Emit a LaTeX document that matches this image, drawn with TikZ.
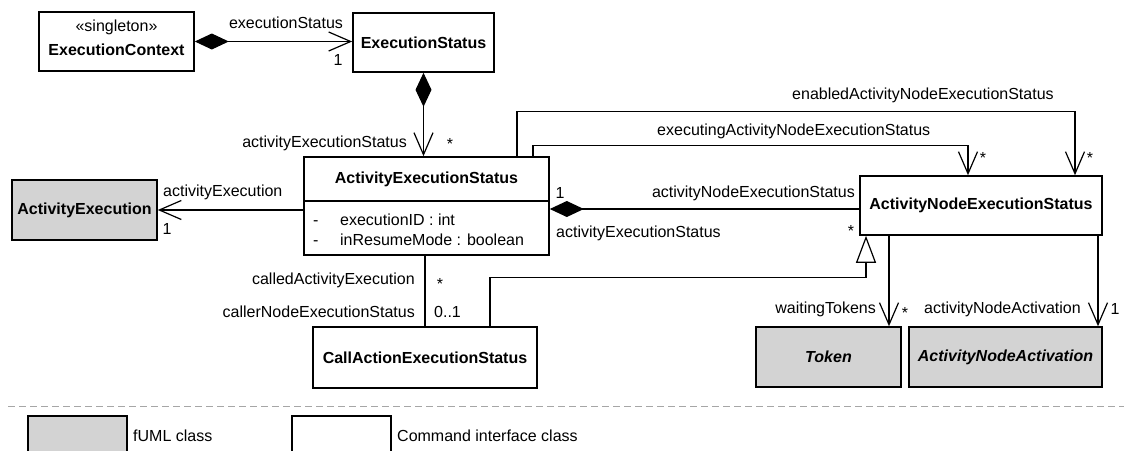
\documentclass[tikz,border=0pt]{standalone}
\usepackage{fontspec}
\setmainfont{Liberation Sans}
\usetikzlibrary{arrows.meta}
\definecolor{fumlgray}{RGB}{211,211,211}

\tikzstyle{cmdclass}=[rectangle, draw, line width=1.6pt, fill=white, inner sep=0pt]
\tikzstyle{fumlclass}=[cmdclass, fill=fumlgray]
\tikzstyle{lbl}=[inner sep=0pt]
\tikzstyle{mult}=[inner sep=0pt, anchor=base]
\tikzstyle{assoc}=[line width=1.2pt]
\tikzstyle{nav}=[assoc, -{Straight Barb[length=22pt,width=19pt]}]
\tikzstyle{comp}=[assoc, {Diamond[length=34pt,width=16pt]}-{Straight Barb[length=22pt,width=19pt]}]
\tikzstyle{owned}=[assoc, {Diamond[length=34pt,width=16pt]}-]
\tikzstyle{gen}=[assoc, -{Triangle[length=27pt,width=20pt,fill=white]}]

\begin{document}
\begin{tikzpicture}[x=1pt, y=-1pt, font=\fontsize{16}{20}\selectfont]
\useasboundingbox (0,0) rectangle (1124,450);

\node [cmdclass, minimum width=155pt, minimum height=59pt, align=center] (ctx) at (116.5,41.5) {«singleton»\\[4pt]\textbf{ExecutionContext}\rule[-7pt]{0pt}{7pt}};
\node [cmdclass, minimum width=141pt, minimum height=59pt] (status) at (423.5,42.5) {\textbf{ExecutionStatus}};
\node [fumlclass, minimum width=145pt, minimum height=60pt] (actexec) at (84.5,210) {\textbf{ActivityExecution}};
\node [cmdclass, minimum width=245pt, minimum height=98pt] (aes) at (426.5,206) {};
\node [lbl] (aestitle) at (426.5,179) {\textbf{ActivityExecutionStatus}};
\node [lbl, anchor=west] (attr1) at (313,220) {\makebox[27pt][l]{-}executionID : int};
\node [lbl, anchor=west] (attr2) at (313,240) {\makebox[27pt][l]{-}inResumeMode : boolean};
\node [cmdclass, minimum width=242pt, minimum height=59pt] (anes) at (981,205.5) {\textbf{ActivityNodeExecutionStatus}};
\node [cmdclass, minimum width=224pt, minimum height=61pt] (caes) at (425,357.5) {\textbf{CallActionExecutionStatus}};
\node [fumlclass, minimum width=145pt, minimum height=60pt] (token) at (828.5,357) {\textbf{\textit{Token}}};
\node [fumlclass, minimum width=193pt, minimum height=60pt] (ana) at (1005.5,357) {\textbf{\textit{ActivityNodeActivation}}};
\draw [line width=1.6pt] (aes.north west |- 0,201) -- (aes.north east |- 0,201);

\draw [comp] (ctx.east) -- (ctx.east -| status.west);
\draw [comp] (status.south) -- (status.south |- aes.north);
\draw [nav] (aes.west |- actexec.east) -- (actexec.east);
\draw [owned] ([yshift=-3.5pt]anes.west -| aes.east) -- ([yshift=-3.5pt]anes.west);
\draw [nav] ([xshift=90.5pt]aes.north) -- ++(0,-45) -| ([xshift=94pt]anes.north);
\draw [nav] ([xshift=106.5pt]aes.north) -- ++(0,-11) -| ([xshift=-13pt]anes.north);
\draw [gen] ([xshift=65pt]caes.north) -- ++(0,-49) -| ([xshift=-115pt]anes.south);
\draw [assoc] (caes.north) -- (caes.north |- aes.south);
\draw [nav] ([xshift=-92pt]anes.south) -- ([xshift=-92pt]anes.south |- token.north);
\draw [nav] ([xshift=117pt]anes.south) -- ([xshift=117pt]anes.south |- ana.north);

\node [lbl] (es-role) at (286,23) {executionStatus};
\node [lbl] (es-mult) at (338,60) {1};
\node [lbl, anchor=east] (aes-role) at (407,143) {activityExecutionStatus};
\node [mult] (aes-mult) at (450,149) {*};
\node [lbl, anchor=west] (ae-role) at (163,192) {activityExecution};
\node [lbl] (ae-mult) at (167,229) {1};
\node [lbl] (owner-mult) at (560,193) {1};
\node [lbl, anchor=east] (anes-role) at (855,193) {activityNodeExecutionStatus};
\node [lbl, anchor=west] (owner-role) at (556,233) {activityExecutionStatus};
\node [mult] (anes-mult) at (851,236) {*};
\node [lbl, anchor=west] (exec-role) at (657,131) {executingActivityNodeExecutionStatus};
\node [mult] (exec-mult) at (983,163) {*};
\node [lbl, anchor=west] (enab-role) at (792,95) {enabledActivityNodeExecutionStatus};
\node [mult] (enab-mult) at (1090,163) {*};
\node [lbl, anchor=east] (called-role) at (415,280) {calledActivityExecution};
\node [mult] (called-mult) at (440,289) {*};
\node [lbl, anchor=east] (caller-role) at (415,312) {callerNodeExecutionStatus};
\node [lbl, anchor=west] (caller-mult) at (434,312) {0..1};
\node [lbl, anchor=east] (tok-role) at (876,309) {waitingTokens};
\node [mult] (tok-mult) at (905,318) {*};
\node [lbl, anchor=west] (act-role) at (924,309) {activityNodeActivation};
\node [lbl] (act-mult) at (1115,309) {1};

\draw [gray!70, line width=1pt, dash pattern=on 7pt off 4pt] (8,406) -- (1124,406);
\node [fumlclass, minimum width=99pt, minimum height=40pt] (keyfuml) at (77.5,436) {};
\node [lbl, anchor=west] (keyfumltext) at (133,436) {fUML class};
\node [cmdclass, minimum width=99pt, minimum height=40pt] (keycmd) at (341.5,436) {};
\node [lbl, anchor=west] (keycmdtext) at (397,436) {Command interface class};
\end{tikzpicture}
\end{document}
